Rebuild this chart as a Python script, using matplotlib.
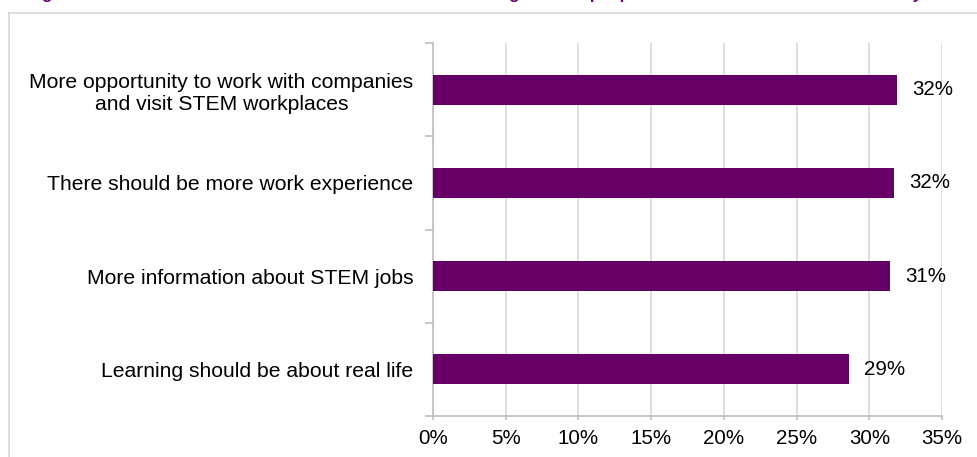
import matplotlib.pyplot as plt
from matplotlib.lines import Line2D
from matplotlib.ticker import FixedLocator, PercentFormatter

plt.rcParams["font.family"] = ["Liberation Sans", "DejaVu Sans"]

# ---- data ----
categories = [
    "More opportunity to work with companies\nand visit STEM workplaces",
    "There should be more work experience",
    "More information about STEM jobs",
    "Learning should be about real life",
]
shares = [31.9, 31.7, 31.4, 28.6]  # % of respondents
title = ("Figure 13: What more schools and teachers could do to bring in more "
         "people to STEM careers in the future – by school type")

PURPLE = "#660066"
GRID = "#d9d9d9"
AXIS = "#bfbfbf"

W, H = 977, 457
fig = plt.figure(figsize=(W / 100, H / 100), dpi=100)
ax = fig.add_axes([433 / W, 1 - 416 / H, (942 - 433) / W, (416 - 43) / H])

# top of the title sits above the canvas
fig.text(27 / W, 1 + 0.5 / H, title, color=PURPLE, fontsize=12.2,
         fontweight="bold", ha="left", va="baseline")

# light frame round the chart area
frame_kw = dict(color=GRID, lw=1.2, transform=fig.transFigure, clip_on=False)
fig.add_artist(Line2D([8.5 / W, 8.5 / W], [1 - 13 / H, 0], **frame_kw))
fig.add_artist(Line2D([8.5 / W, 1], [1 - 13 / H, 1 - 13 / H], **frame_kw))

y = list(range(len(categories)))
ax.barh(y, shares, height=0.32, color=PURPLE, zorder=3)

for yi, v in zip(y, shares):
    ax.text(v + 1.05, yi, f"{v:.0f}%", va="center", ha="left", fontsize=14.8)

ax.set_xlim(0, 35)
ax.set_ylim(len(categories) - 0.5, -0.5)
ax.set_xticks(range(0, 36, 5))
ax.xaxis.set_major_formatter(PercentFormatter(decimals=0))
ax.set_yticks(y)
ax.set_yticklabels(categories, multialignment="center", linespacing=1.2)
ax.yaxis.set_minor_locator(FixedLocator([i - 0.5 for i in range(len(categories) + 1)]))

ax.tick_params(axis="y", which="major", length=0, pad=14, labelsize=15.2)
ax.tick_params(axis="y", which="minor", length=6, color=AXIS, width=1.2)
ax.tick_params(axis="x", which="major", length=3, color=AXIS, width=1.2,
               labelsize=14.8, pad=6)

ax.grid(axis="x", color=GRID, lw=1.2, zorder=0)
ax.set_axisbelow(True)
for side in ("top", "right"):
    ax.spines[side].set_visible(False)
for side in ("left", "bottom"):
    ax.spines[side].set_color(AXIS)
    ax.spines[side].set_linewidth(1.2)

fig.savefig("out.png", dpi=100)
